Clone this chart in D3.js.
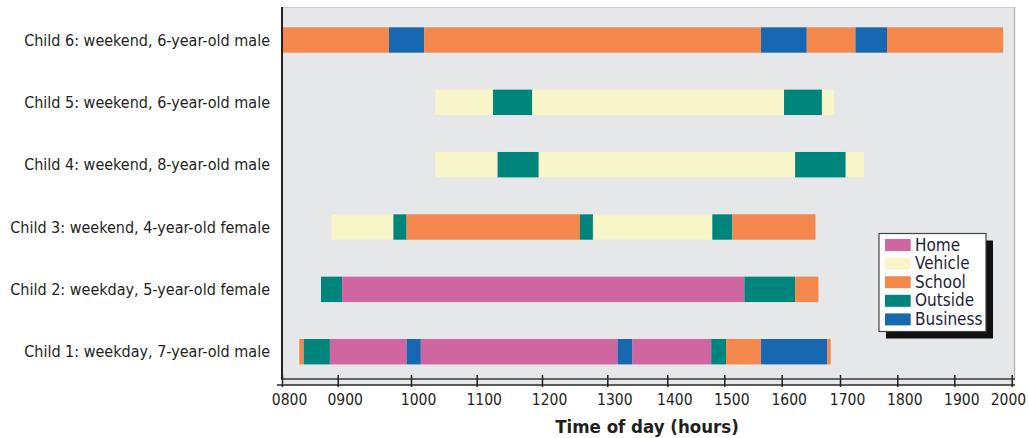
<!DOCTYPE html>
<html><head><meta charset="utf-8">
<script src="https://cdn.jsdelivr.net/npm/d3@7"></script>
<style>
html,body{margin:0;padding:0;background:#fff;}
svg{display:block;}
text{font-family:"Liberation Sans Narrow","DejaVu Sans Condensed","Roboto Condensed","Liberation Sans",Arial,sans-serif;}
</style></head><body>
<svg id="chart" width="1028" height="438"></svg>
<script>
// ---------- data ----------
const childLabels = [
  "Child 6: weekend, 6-year-old male",
  "Child 5: weekend, 6-year-old male",
  "Child 4: weekend, 8-year-old male",
  "Child 3: weekend, 4-year-old female",
  "Child 2: weekday, 5-year-old female",
  "Child 1: weekday, 7-year-old male"
];
const activities = ["Home", "Vehicle", "School", "Outside", "Business"];
const hourTicks = [8, 9, 10, 11, 12, 13, 14, 15, 16, 17, 18, 19, 20];
const tickLabels = ["0800","0900","1000","1100","1200","1300","1400","1500","1600","1700","1800","1900","2000"];

// segments: [activity, start hour, end hour]
const child6 = [["School",8.00,9.70],["Business",9.70,10.20],["School",10.20,15.64],["Business",15.64,16.43],["School",16.43,17.27],["Business",17.27,17.82],["School",17.82,19.85]];
const child5 = [["Vehicle",10.37,11.25],["Outside",11.25,11.85],["Vehicle",11.85,16.04],["Outside",16.04,16.69],["Vehicle",16.69,16.90]];
const child4 = [["Vehicle",10.37,11.32],["Outside",11.32,11.95],["Vehicle",11.95,16.23],["Outside",16.23,17.10],["Vehicle",17.10,17.42]];
const child3 = [["Vehicle",8.89,9.76],["Outside",9.76,9.94],["School",9.94,12.58],["Outside",12.58,12.78],["Vehicle",12.78,14.79],["Outside",14.79,15.14],["School",15.14,16.58]];
const child2 = [["Outside",8.70,9.06],["Home",9.06,15.35],["Outside",15.35,16.23],["School",16.23,16.63]];
const child1 = [["School",8.31,8.39],["Outside",8.39,8.86],["Home",8.86,9.94],["Business",9.94,10.15],["Home",10.15,13.17],["Business",13.17,13.42],["Home",13.42,14.77],["Outside",14.77,15.03],["School",15.03,15.64],["Business",15.64,16.78],["School",16.78,16.84]];
const childSegments = [child6, child5, child4, child3, child2, child1];

// ---------- styles / layout ----------
const activityColors = ["#cf66a1", "#f8f5c8", "#f4874b", "#00857c", "#1768b0"];
// the original axis is not evenly spaced: pixel stops for each tick hour
const tickStops = [282, 337.7, 411, 476.7, 542, 607.3, 667.3, 724.3, 781.7, 840, 897.3, 954.3, 1011.7];
const plot = {left: 282, top: 7, right: 1015, bottom: 379};
const barH = 25.4;

const svg = d3.select("#chart");
const x = d3.scaleLinear().domain(hourTicks).range(tickStops);
const y = d3.scalePoint().domain(childLabels).range([40, 351.7]);
const color = d3.scaleOrdinal().domain(activities).range(activityColors);

// plot background
svg.append("rect").attr("x", plot.left).attr("y", plot.top)
  .attr("width", plot.right - plot.left).attr("height", 385 - plot.top)
  .attr("fill", "#e6e7e8");
svg.append("line").attr("x1", plot.left).attr("x2", plot.right).attr("y1", plot.top + 0.5).attr("y2", plot.top + 0.5)
  .attr("stroke", "#cfcfd1").attr("stroke-width", 1);
svg.append("line").attr("x1", plot.right - 0.5).attr("x2", plot.right - 0.5).attr("y1", plot.top).attr("y2", plot.bottom)
  .attr("stroke", "#b9b9bb").attr("stroke-width", 1.5);

// bars
const rows = svg.append("g").selectAll("g").data(childLabels).join("g");
rows.selectAll("rect")
  .data((d, i) => childSegments[i].map(s => ({label: d, act: s[0], s: s[1], e: s[2]})))
  .join("rect")
  .attr("x", d => x(d.s))
  .attr("width", d => x(d.e) - x(d.s))
  .attr("y", d => y(d.label) - barH / 2)
  .attr("height", barH)
  .attr("fill", d => color(d.act));

// row labels
svg.append("g").selectAll("text").data(childLabels).join("text")
  .attr("x", 270).attr("y", d => y(d) + 1)
  .attr("text-anchor", "end").attr("dominant-baseline", "middle")
  .attr("font-size", 16).attr("fill", "#231f20")
  .text(d => d);

// frame lines
svg.append("line").attr("x1", plot.left).attr("x2", plot.left).attr("y1", plot.top).attr("y2", plot.bottom)
  .attr("stroke", "#222").attr("stroke-width", 2);
svg.append("line").attr("x1", plot.left - 1).attr("x2", plot.right).attr("y1", plot.bottom).attr("y2", plot.bottom)
  .attr("stroke", "#3a3a3a").attr("stroke-width", 1.5);
svg.append("line").attr("x1", 277).attr("x2", plot.right).attr("y1", 385).attr("y2", 385)
  .attr("stroke", "#2a2a2a").attr("stroke-width", 1.5);

// x axis
const axis = d3.axisBottom(x).tickValues(hourTicks)
  .tickFormat((d, i) => tickLabels[i]).tickSize(12).tickPadding(7);
const ax = svg.append("g").attr("transform", "translate(0,375)").call(axis);
ax.select(".domain").remove();
ax.selectAll(".tick line").attr("stroke", "#222").attr("stroke-width", 1.5);
const last = hourTicks.length - 1;
ax.selectAll(".tick text")
  .attr("font-size", 15.5).attr("fill", "#231f20")
  .attr("font-family", null)
  .attr("text-anchor", (d, i) => i === last ? "end" : "middle")
  .attr("dx", (d, i) => i === last ? 14 : 7);

// axis title
svg.append("text").attr("x", 647).attr("y", 433).attr("text-anchor", "middle")
  .attr("font-size", 18.5).attr("font-weight", "bold").attr("fill", "#231f20")
  .text("Time of day (hours)");

// legend
const lg = svg.append("g").attr("transform", "translate(879,233.5)");
lg.append("rect").attr("x", 7).attr("y", 7).attr("width", 107).attr("height", 98).attr("fill", "#111");
lg.append("rect").attr("x", 0).attr("y", 0).attr("width", 107).attr("height", 98)
  .attr("fill", "#fff").attr("stroke", "#444").attr("stroke-width", 1.2);
const li = lg.selectAll("g.item").data(activities).join("g").attr("class", "item")
  .attr("transform", (d, i) => `translate(6,${5.5 + i * 18.6})`);
li.append("rect").attr("width", 25.7).attr("height", 12).attr("fill", d => color(d));
li.append("text").attr("x", 30).attr("y", 6.5).attr("dominant-baseline", "middle")
  .attr("font-size", 17).attr("fill", "#1f1f3a").text(d => d);
</script>
</body></html>
